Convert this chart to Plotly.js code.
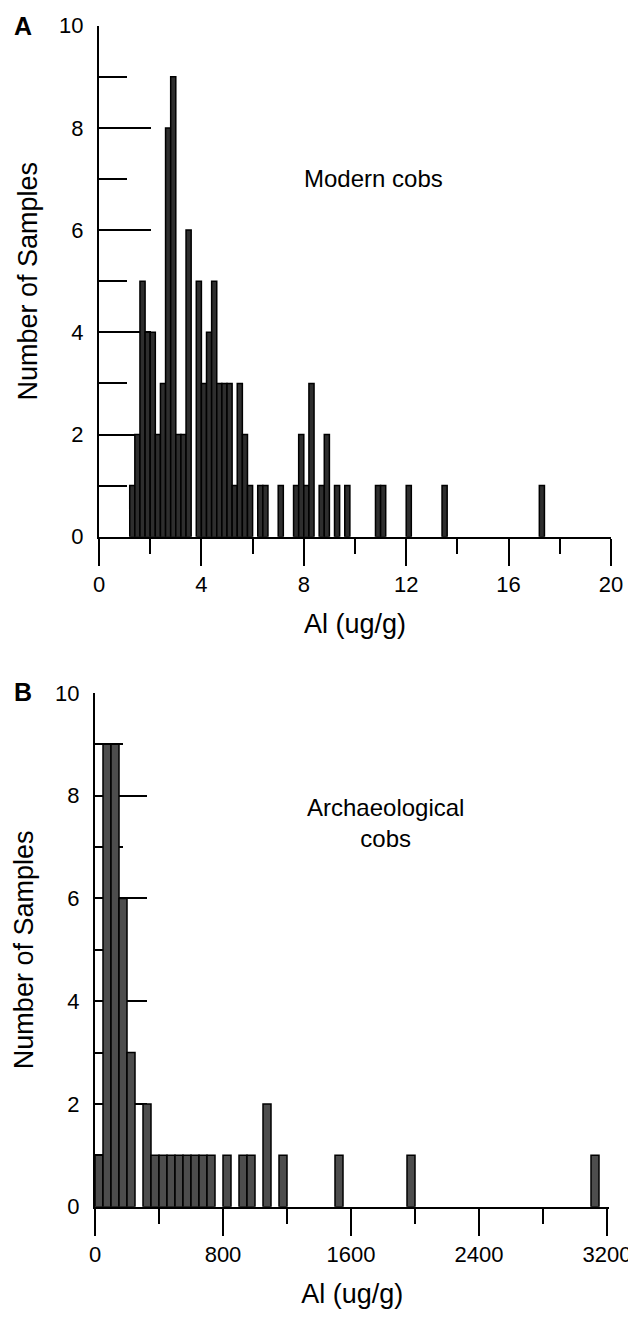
<!DOCTYPE html>
<html>
<head>
<meta charset="utf-8">
<script src="https://cdn.plot.ly/plotly-3.0.1.min.js"></script>
<style>html,body{margin:0;padding:0;background:#fff;}#chart{width:628px;height:1320px;}</style>
</head>
<body>
<div id="chart"></div>
<script>
// ---- Data: Panel A (modern cobs), bins of 0.2 ug/g, left edges and counts
const binWidthA = 0.2;
const binStartA = [1.2,1.4,1.6,1.8,2.0,2.2,2.4,2.6,2.8,3.0,3.2,3.4,3.8,4.0,4.2,4.4,4.6,4.8,5.0,5.2,5.4,5.6,5.8,6.2,6.4,7.0,7.6,7.8,8.0,8.2,8.6,8.8,9.2,9.6,10.8,11.0,12.0,13.4,17.2];
const countsA   = [1,2,5,4,4,2,3,8,9,2,2,6,5,3,4,5,3,3,3,1,3,2,1,1,1,1,1,2,1,3,1,2,1,1,1,1,1,1,1];

// ---- Data: Panel B (archaeological cobs), bins of 50 ug/g
const binWidthB = 50;
const binStartB = [0,50,100,150,200,300,350,400,450,500,550,600,650,700,800,900,950,1050,1150,1500,1950,3100];
const countsB   = [1,9,9,6,3,2,1,1,1,1,1,1,1,1,1,1,1,2,1,1,1,1];

const xTicksA = [0,4,8,12,16,20];
const xTicksB = [0,800,1600,2400,3200];
const yTicks  = [0,2,4,6,8,10];

const FONT = 'Liberation Sans, Arial, Helvetica, sans-serif';
const W = 628, H = 1320;
const px = v => v / W;
const py = v => 1 - v / H;

const centers = (starts, w) => starts.map(s => s + w / 2);

const traceA = {
  type: 'bar', x: centers(binStartA, binWidthA), y: countsA, width: binWidthA,
  xaxis: 'x', yaxis: 'y', hoverinfo: 'skip',
  marker: { color: '#2e2e2e', line: { color: '#000', width: 1.5 } }
};
const traceB = {
  type: 'bar', x: centers(binStartB, binWidthB), y: countsB, width: binWidthB,
  xaxis: 'x2', yaxis: 'y2', hoverinfo: 'skip',
  marker: { color: '#4d4d4d', line: { color: '#000', width: 1.5 } }
};

const tickFont = { family: FONT, size: 22, color: '#000' };
const titleFont = { family: FONT, size: 27, color: '#000' };
const annFont = { family: FONT, size: 24, color: '#000' };

function xAxis(domain, range, ticks, minorDtick, anchor) {
  return {
    domain: domain, range: range, anchor: anchor,
    showline: true, linecolor: '#000', linewidth: 2,
    showgrid: false, zeroline: false, layer: 'below traces',
    tickmode: 'array', tickvals: ticks, ticktext: ticks.map(String),
    ticks: 'outside', ticklen: 27, tickwidth: 2, tickcolor: '#000',
    minor: { dtick: minorDtick, ticks: 'outside', ticklen: 15, tickwidth: 2, tickcolor: '#000', showgrid: false },
    tickfont: tickFont, automargin: false, ticklabeloverflow: 'allow',
    title: { text: 'Al (ug/g)', font: titleFont, standoff: 18 }
  };
}
function yAxis(domain, anchor) {
  return {
    domain: domain, range: [0, 10], anchor: anchor,
    showline: true, linecolor: '#000', linewidth: 2,
    showgrid: false, zeroline: false, layer: 'below traces',
    tickmode: 'array', tickvals: yTicks, ticktext: yTicks.map(String),
    ticks: 'inside', ticklen: 52, tickwidth: 2, tickcolor: '#000',
    minor: { dtick: 1, ticks: 'inside', ticklen: 28, tickwidth: 2, tickcolor: '#000', showgrid: false },
    tickfont: tickFont, ticklabelstandoff: 9, automargin: false, ticklabeloverflow: 'allow',
    title: { text: 'Number of Samples', font: titleFont, standoff: 14 }
  };
}

const layout = {
  width: W, height: H,
  margin: { l: 0, r: 0, t: 0, b: 0 },
  paper_bgcolor: '#fff', plot_bgcolor: 'rgba(0,0,0,0)',
  showlegend: false, bargap: 0,
  font: { family: FONT, color: '#000' },
  xaxis:  xAxis([px(99), px(611)], [0, 20], xTicksA, 2, 'y'),
  yaxis:  yAxis([py(536.7), py(25.7)], 'x'),
  xaxis2: xAxis([px(95), px(609.4)], [0, 3215], xTicksB, 400, 'y2'),
  yaxis2: yAxis([py(1206.7), py(693)], 'x2'),
  annotations: [
    { text: '<b>A</b>', xref: 'paper', yref: 'paper', x: px(23), y: py(26), xanchor: 'center', yanchor: 'middle', showarrow: false, font: { family: FONT, size: 25, color: '#000' } },
    { text: '<b>B</b>', xref: 'paper', yref: 'paper', x: px(23), y: py(692), xanchor: 'center', yanchor: 'middle', showarrow: false, font: { family: FONT, size: 25, color: '#000' } },
    { text: 'Modern cobs', xref: 'paper', yref: 'paper', x: px(373), y: py(178), xanchor: 'center', yanchor: 'middle', showarrow: false, font: annFont },
    { text: 'Archaeological<br>cobs', xref: 'paper', yref: 'paper', x: px(385), y: py(823), xanchor: 'center', yanchor: 'middle', align: 'center', showarrow: false, font: annFont }
  ]
};

Plotly.newPlot('chart', [traceA, traceB], layout, { staticPlot: true, displayModeBar: false });
</script>
</body>
</html>
